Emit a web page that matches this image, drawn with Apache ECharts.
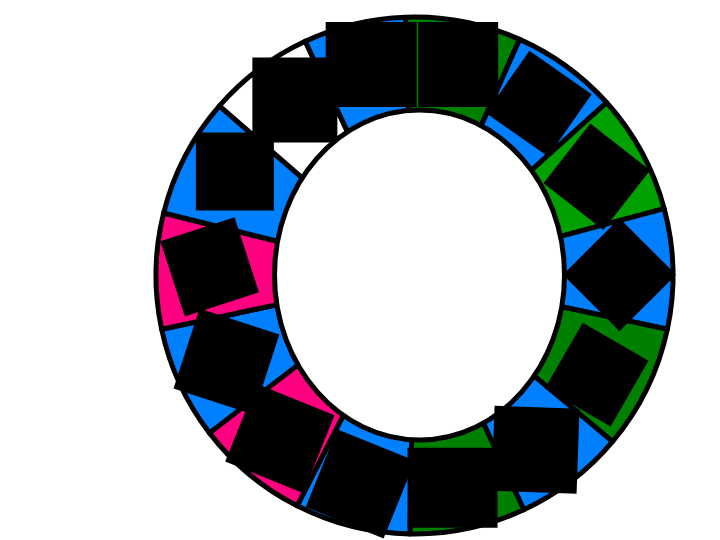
<!DOCTYPE html>
<html>
<head>
<meta charset="utf-8">
<script src="https://cdn.jsdelivr.net/npm/echarts@6/dist/echarts.min.js"></script>
<style>html,body{margin:0;padding:0;background:#fff;}#c{width:720px;height:540px;}</style>
</head>
<body>
<div id="c"></div>
<script>
// Data (sector sizes, clockwise from just left of 12 o'clock)
const categories = ['Item 1','Item 2','Item 3','Item 4','Item 5','Item 6','Item 7',
                    'Item 8','Item 9','Item 10','Item 11','Item 12','Item 13','Item 14'];
const values = [26, 24, 27, 27, 28, 25, 26, 26, 25.5, 25.5, 26, 27, 24, 23];

// Styles
const sectorColors = ['#008000','#0080FF','#00A000','#0080FF','#008000','#0080FF','#008000',
                      '#0080FF','#FF0080','#0080FF','#FF0080','#0080FF','#FFFFFF','#0080FF'];
const labelRotations = [0, -35, -38, -45, -30, -2, 0, -22, -22, -18, 18, 0, 0, 0];
const labelWidths  = [80, 76, 76, 80, 76, 85, 90, 84, 84, 84, 78, 78, 85, 91];
const labelHeights = [85, 76, 76, 80, 76, 85, 80, 84, 84, 84, 79, 78, 85, 85];

const CENTER = [414.5, 275.5];
const START_ANGLE = 92;          // echarts degrees (90 = 12 o'clock)
const LABEL_RX = 205, LABEL_RY = 216, LABEL_SHIFT_DEG = 1.3;

const chart = echarts.init(document.getElementById('c'), null, {renderer: 'canvas'});

const total = values.reduce((a, b) => a + b, 0);
// mid angle of each sector measured clockwise from 12 o'clock (degrees), derived from the values
const midAngles = [];
(function () {
  let acc = 90 - START_ANGLE;
  values.forEach(v => {
    const span = v / total * 360;
    midAngles.push(acc + span / 2 + LABEL_SHIFT_DEG);
    acc += span;
  });
})();

const sectorData = categories.map((name, i) => ({
  name: name,
  value: values[i],
  itemStyle: {color: sectorColors[i]}
}));
const labelData = categories.map((name, i) => ({
  name: name,
  value: values[i],
  label: {
    rotate: labelRotations[i],
    width: labelWidths[i],
    height: labelHeights[i],
    lineHeight: labelHeights[i]
  }
}));

chart.setOption({
  animation: false,
  backgroundColor: '#ffffff',
  series: [
    {
      type: 'pie',
      z: 2,
      center: CENTER,
      radius: [130, 258.5],
      startAngle: START_ANGLE,
      clockwise: true,
      silent: true,
      label: {show: false},
      labelLine: {show: false},
      itemStyle: {borderColor: '#000000', borderWidth: 5},
      data: sectorData
    },
    {
      type: 'pie',
      z: 4,
      center: CENTER,
      radius: [165, 258.5],
      startAngle: START_ANGLE,
      clockwise: true,
      silent: true,
      avoidLabelOverlap: false,
      labelLayout: function (params) {
        const a = midAngles[params.dataIndex] * Math.PI / 180;
        return {
          x: CENTER[0] + LABEL_RX * Math.sin(a),
          y: CENTER[1] - LABEL_RY * Math.cos(a),
          hideOverlap: false
        };
      },
      itemStyle: {color: 'rgba(0,0,0,0)', borderWidth: 0},
      labelLine: {show: false},
      label: {
        show: true,
        position: 'inside',
        formatter: '{b}',
        color: '#000000',
        backgroundColor: '#000000',
        align: 'center',
        verticalAlign: 'middle',
        fontFamily: 'DejaVu Sans',
        fontSize: 12
      },
      data: labelData
    }
  ],
  graphic: {
    elements: [
      {
        type: 'ellipse',
        z: 3,
        shape: {cx: 419.5, cy: 275, rx: 145, ry: 165},
        style: {fill: '#ffffff', stroke: '#000000', lineWidth: 5},
        silent: true
      }
    ]
  }
});
</script>
</body>
</html>
